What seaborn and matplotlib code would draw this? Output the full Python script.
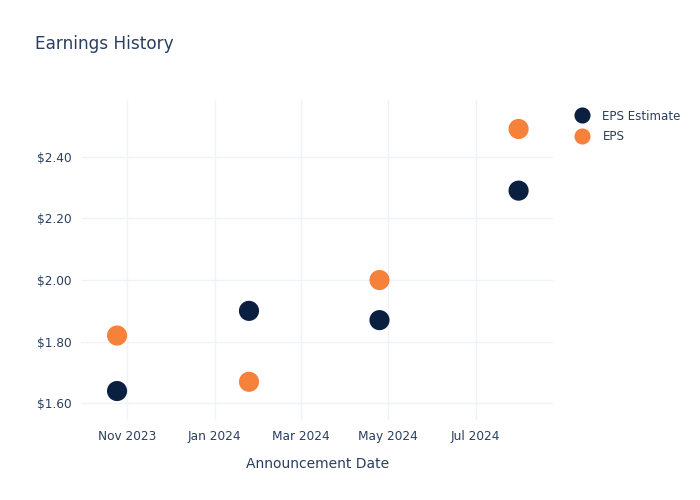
# Earnings history scatter: EPS estimate vs actual EPS

import pandas as pd
import matplotlib.pyplot as plt
import matplotlib.dates as mdates
import seaborn as sns

# Data
dates = ['2023-10-25', '2024-01-25', '2024-04-25', '2024-07-31']
eps_estimate = [1.64, 1.90, 1.87, 2.29]
eps_actual = [1.82, 1.67, 2.00, 2.49]
series_names = ['EPS Estimate', 'EPS']
series_colors = ['#0b1f41', '#f5813a']

df = pd.DataFrame({
    'date': pd.to_datetime(dates * 2),
    'value': eps_estimate + eps_actual,
    'series': [series_names[0]] * len(dates) + [series_names[1]] * len(dates),
})

text_color = '#2a3f5f'
grid_color = '#eef2f9'

sns.set_style('white')
plt.rcParams['font.family'] = ['DejaVu Sans']

fig = plt.figure(figsize=(7, 5), dpi=100)
ax = fig.add_axes([0.116, 0.16, 0.674, 0.64])

sns.scatterplot(
    data=df, x='date', y='value', hue='series',
    hue_order=series_names, palette=series_colors,
    s=210, linewidth=0, ax=ax, zorder=3,
)

# axis ranges
ax.set_xlim(pd.Timestamp('2023-09-30'), pd.Timestamp('2024-08-24'))
ax.set_ylim(1.546, 2.584)

ax.xaxis.set_major_locator(mdates.MonthLocator(bymonth=[1, 3, 5, 7, 11]))
ax.xaxis.set_major_formatter(mdates.DateFormatter('%b %Y'))
ax.set_yticks([1.6, 1.8, 2.0, 2.2, 2.4])
ax.yaxis.set_major_formatter(plt.FuncFormatter(lambda v, p: f'${v:.2f}'))

ax.grid(True, color=grid_color, linewidth=1)
ax.set_axisbelow(True)
for spine in ax.spines.values():
    spine.set_visible(False)
ax.tick_params(length=0, labelsize=8.7, labelcolor=text_color, pad=7)

ax.set_xlabel('Announcement Date', fontsize=10, color=text_color, labelpad=10)
ax.set_ylabel('')

fig.text(0.05, 0.912, 'Earnings History', fontsize=12.2, color=text_color, va='center')

leg = ax.legend(
    loc='upper left', bbox_to_anchor=(1.025, 0.985), frameon=False,
    fontsize=8.6, handletextpad=0.75, labelspacing=0.6, borderaxespad=0,
    markerscale=0.8,
)
for t in leg.get_texts():
    t.set_color(text_color)

fig.savefig('out.png', dpi=100)
